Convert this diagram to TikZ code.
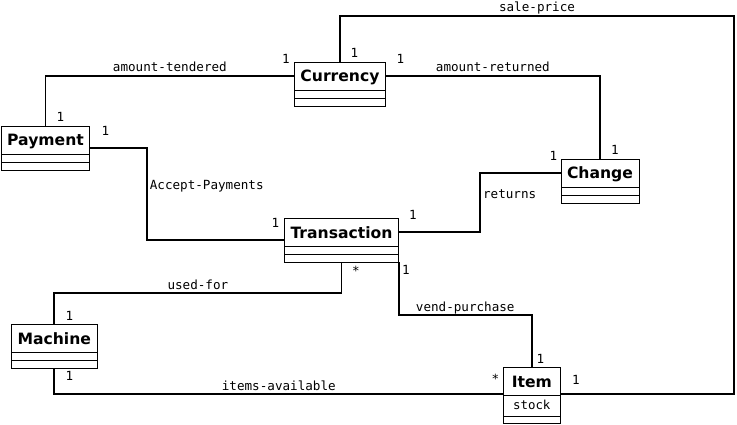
\documentclass[tikz,border=0pt]{standalone}
\usepackage{fontspec}
\newfontfamily\classfont{DejaVu Sans}
\newfontfamily\labelfont{DejaVu Sans Mono}
\usetikzlibrary{positioning}

\begin{document}
\begin{tikzpicture}[x=1pt, y=-1pt,
  classbox/.style={draw, line width=0.9pt, outer sep=0pt, inner sep=0pt, text height=20pt, text depth=8pt, font=\fontsize{15.6}{18}\classfont\bfseries},
  compbox/.style={draw, line width=0.9pt, outer sep=0pt, inner sep=0pt, minimum height=8pt},
  assoc/.style={line width=1.7pt},
  assoclabel/.style={font=\fontsize{12.6}{14}\labelfont, inner sep=0pt, anchor=base, yshift=4pt},
  sidelabel/.style={assoclabel, anchor=base west, xshift=2pt},
  mult/.style={font=\fontsize{12.6}{14}\labelfont, inner sep=0pt, anchor=base}]

		\useasboundingbox (0,0) rectangle (737,425);

		% classes
		\path (45.5,140) node[classbox, minimum width=88pt] (pay) {Payment}
  		(340,76) node[classbox, minimum width=91.5pt] (cur) {Currency}
  		(600,173) node[classbox, minimum width=78pt] (chg) {Change}
  		(341.5,232) node[classbox, minimum width=114.5pt] (trx) {Transaction}
  		(54.3,338) node[classbox, minimum width=86pt] (mach) {Machine}
  		(531.8,381) node[classbox, minimum width=57pt] (item) {Item};

		\node[compbox, minimum width=88pt, below=0pt of pay] (pay-a) {};
		\node[compbox, minimum width=88pt, below=0pt of pay-a] (pay-o) {};
		\node[compbox, minimum width=91.5pt, below=0pt of cur] (cur-a) {};
		\node[compbox, minimum width=91.5pt, below=0pt of cur-a] (cur-o) {};
		\node[compbox, minimum width=78pt, below=0pt of chg] (chg-a) {};
		\node[compbox, minimum width=78pt, below=0pt of chg-a] (chg-o) {};
		\node[compbox, minimum width=114.5pt, below=0pt of trx] (trx-a) {};
		\node[compbox, minimum width=114.5pt, below=0pt of trx-a] (trx-o) {};
		\node[compbox, minimum width=86pt, below=0pt of mach] (mach-a) {};
		\node[compbox, minimum width=86pt, below=0pt of mach-a] (mach-o) {};
		\node[compbox, minimum width=57pt, minimum height=21pt, text height=14pt, text depth=7pt, font=\fontsize{12.4}{14}\labelfont, below=0pt of item] (item-a) {stock};
		\node[compbox, minimum width=57pt, minimum height=7pt, below=0pt of item-a] (item-o) {};

		% associations
		\coordinate (sp-corner) at (734,16);
		\draw[assoc] (pay.north) |- (cur.west) node[assoclabel, pos=0.75] (l-tend) {amount-tendered};
		\draw[assoc] (cur.north) |- (sp-corner) node[assoclabel, pos=0.75] (l-price) {sale-price} |- ([yshift=1pt]item.south east);
		\draw[assoc] (cur.east) -| (chg.north) node[assoclabel, pos=0.25] (l-ret) {amount-returned};
		\draw[assoc] ([yshift=6pt]pay.south east) -- ++(57.5,0) |- ([yshift=6pt]trx.south west) node[sidelabel, pos=0.25] (l-acc) {Accept-Payments};
		\draw[assoc] (trx.east) -- ++(81.5,0) |- (chg.west) node[sidelabel, pos=0.25] (l-returns) {returns};
		\draw[assoc] (trx-o.south) -- ++(0,31) -| (mach.north) node[assoclabel, pos=0.25] (l-used) {used-for};
		\draw[assoc] (trx-o.south east) -- ++(0,53) -| (item.north) node[assoclabel, pos=0.25] (l-vend) {vend-purchase};
		\draw[assoc] (mach-o.south) |- ([yshift=1pt]item.south west) node[assoclabel, pos=0.75] (l-avail) {items-available};

		% multiplicities
		\path (60.5,122) node[mult] (m-tend-pay) {1}
  		(286,64) node[mult] (m-tend-cur) {1}
  		(354.5,58) node[mult] (m-price-cur) {1}
  		(576,384) node[mult] (m-price-item) {1}
  		(400.5,64) node[mult] (m-ret-cur) {1}
  		(615,155) node[mult] (m-ret-chg) {1}
  		(105.5,136) node[mult] (m-acc-pay) {1}
  		(275.5,228) node[mult] (m-acc-trx) {1}
  		(413,220) node[mult] (m-returns-trx) {1}
  		(553.5,160.5) node[mult] (m-returns-chg) {1}
  		(356,276) node[mult] (m-used-trx) {*}
  		(69.5,320) node[mult] (m-used-mach) {1}
  		(406,274) node[mult] (m-vend-trx) {1}
  		(540.5,363) node[mult] (m-vend-item) {1}
  		(69.5,380) node[mult] (m-avail-mach) {1}
  		(495.5,383) node[mult] (m-avail-item) {*};
	\end{tikzpicture}
\end{document}
